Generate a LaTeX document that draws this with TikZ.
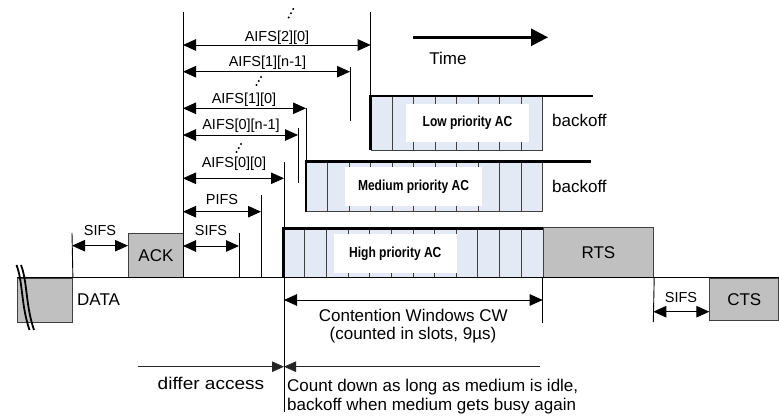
\documentclass[tikz,border=0pt]{standalone}
\usepackage{fontspec}
\setmainfont{Liberation Sans}
\usetikzlibrary{arrows.meta}
\definecolor{boxgrey}{HTML}{C0C0C0}
\definecolor{slotblue}{HTML}{E3EAF5}
\definecolor{edgegrey}{HTML}{404040}
\begin{document}
\begin{tikzpicture}[x=1pt,y=-1pt,
  tickline/.style={line width=0.9pt, black},
  slotline/.style={line width=0.9pt, edgegrey},
  thickline/.style={line width=2.6pt, black},
  dimarrow/.style={{Triangle[length=13pt,width=11.5pt]}-{Triangle[length=13pt,width=11.5pt]}, line width=0.9pt},
  greybox/.style={draw=edgegrey, fill=boxgrey, line width=0.9pt, inner sep=0pt, font=\fontsize{17}{20}\selectfont},
  dimlbl/.style={inner sep=0pt, anchor=base, font=\fontsize{14.5}{17}\selectfont},
  txt/.style={inner sep=0pt, font=\fontsize{17}{20}\selectfont},
  aclbl/.style={inner sep=0pt, font=\fontsize{14.5}{17}\selectfont\bfseries},
  dotmark/.style={fill=black}
]
\useasboundingbox (0,0) rectangle (779,419);

% ---------- slot boxes ----------
% low priority
\fill[slotblue] (370.7,96) rectangle (542.7,150);
\foreach \i in {1,...,7} \draw[slotline] ({370.7+\i*21.5},96) -- ({370.7+\i*21.5},150);
\fill[white] (406,104) rectangle (529,142);
\draw[slotline] (370.7,150) -- (542.7,150) -- (542.7,96);
\draw[thickline] (370.7,150) -- (370.7,96) -- (592.7,96);
\node[aclbl] (low) at (467.5,123) {\scalebox{0.83}[1]{Low priority AC}};

% medium priority
\fill[slotblue] (306,161.7) rectangle (542.7,211.7);
\foreach \i in {1,...,10} \draw[slotline] ({306+\i*21.52},161.7) -- ({306+\i*21.52},211.7);
\fill[white] (345,167) rectangle (482,206);
\draw[slotline] (306,211.7) -- (542.7,211.7) -- (542.7,161.7);
\draw[thickline] (306,211.7) -- (306,161.7) -- (591,161.7);
\node[aclbl] (med) at (413.5,186.5) {\scalebox{0.83}[1]{Medium priority AC}};

% high priority
\fill[slotblue] (283.3,228.3) rectangle (542.7,278);
\foreach \i in {1,...,11} \draw[slotline] ({283.3+\i*21.62},228.3) -- ({283.3+\i*21.62},278);
\fill[white] (334,234) rectangle (456.7,272.7);
\draw[thickline] (283.3,278) -- (283.3,228.3) -- (542.7,228.3);
\node[aclbl] (high) at (395.3,253.3) {\scalebox{0.83}[1]{High priority AC}};

% ---------- grey frames ----------
\node[greybox, minimum width=55pt, minimum height=44pt, anchor=north west] (data) at (17,278) {};
\node[greybox, minimum width=55pt, minimum height=44.3pt, anchor=south west] (ack) at (128,278) {ACK};
\node[greybox, minimum width=110.6pt, minimum height=49.7pt, anchor=south west] (rts) at (542.7,278) {RTS};
\node[greybox, minimum width=69pt, minimum height=42pt, anchor=north west] (cts) at (709.3,278) {CTS};

% break marks on DATA
\draw[line width=1.8pt] (16.5,265) .. controls (23,282) and (21,305) .. (29.5,330);
\draw[line width=1.8pt] (21,265) .. controls (27.5,282) and (25.5,305) .. (34,330);

% ---------- tick lines ----------
\coordinate (tS1) at (72,233);
\coordinate (tT) at (183,12);   \coordinate (tTb) at (183,278);
\coordinate (tS2) at (239,233); \coordinate (tS2b) at (239,278);
\coordinate (tP) at (261,195);  \coordinate (tPb) at (261,278);
\coordinate (tA00) at (284,162); \coordinate (tA00b) at (284,412);
\coordinate (tA0n) at (298,128); \coordinate (tA0nb) at (298,183);
\coordinate (tA10) at (306,108); \coordinate (tA10b) at (306,162);
\coordinate (tA1n) at (350,67);  \coordinate (tA1nb) at (350,121);
\coordinate (tA20) at (370.7,12); \coordinate (tA20b) at (370.7,96);
\coordinate (tCW) at (542.7,323);
\coordinate (tR) at (653.3,322);
\draw[tickline] (data.north east) -- (tS1);
\draw[tickline] (tT) -- (tTb);
\draw[tickline] (tS2) -- (tS2b);
\draw[tickline] (tP) -- (tPb);
\draw[tickline] (tA00) -- (tA00b);
\draw[tickline] (tA0n) -- (tA0nb);
\draw[tickline] (tA10) -- (tA10b);
\draw[tickline] (tA1n) -- (tA1nb);
\draw[tickline] (tA20) -- (tA20b);
\draw[tickline] (rts.south west) -- (tCW);
\draw[tickline] (rts.south east) -- (tR);

% baseline
\coordinate (Lend) at (779,278);
\draw[line width=1pt] (data.north west) -- (Lend);

% ---------- dimension arrows ----------
\coordinate (s1a) at (72,245.7);  \coordinate (s1b) at (128,245.7);
\coordinate (s2a) at (183,246);   \coordinate (s2b) at (239,246);
\coordinate (pa) at (183,211.7);  \coordinate (pb) at (261,211.7);
\coordinate (a00a) at (183,178.3); \coordinate (a00b) at (284,178.3);
\coordinate (a0na) at (183,135);  \coordinate (a0nb) at (298,135);
\coordinate (a10a) at (183,108.3); \coordinate (a10b) at (306,108.3);
\coordinate (a1na) at (183,71.7); \coordinate (a1nb) at (350,71.7);
\coordinate (a20a) at (183,45);   \coordinate (a20b) at (370.7,45);
\coordinate (cwa) at (284,300);   \coordinate (cwb) at (542.7,300);
\coordinate (s3a) at (653.3,311.7); \coordinate (s3b) at (709.3,311.7);
\draw[dimarrow] (s1a) -- (s1b);
\draw[dimarrow] (s2a) -- (s2b);
\draw[dimarrow] (pa) -- (pb);
\draw[dimarrow] (a00a) -- (a00b);
\draw[dimarrow] (a0na) -- (a0nb);
\draw[dimarrow] (a10a) -- (a10b);
\draw[dimarrow] (a1na) -- (a1nb);
\draw[dimarrow] (a20a) -- (a20b);
\draw[dimarrow] (cwa) -- (cwb);
\draw[dimarrow] (s3a) -- (s3b);

\node[dimlbl] (ls1) at (100,236) {SIFS};
\node[dimlbl] (ls2) at (211,236) {SIFS};
\node[dimlbl] (lp) at (222,205) {PIFS};
\node[dimlbl] (la00) at (234,167.5) {AIFS[0][0]};
\node[dimlbl] (la0n) at (241,129.5) {AIFS[0][n-1]};
\node[dimlbl] (la10) at (244,103.5) {AIFS[1][0]};
\node[dimlbl] (la1n) at (267.5,67) {AIFS[1][n-1]};
\node[dimlbl] (la20) at (277,41.5) {AIFS[2][0]};
\node[dimlbl] (ls3) at (681,302.7) {SIFS};

% ellipsis dots
\foreach \p in {(288.8,17.5),(291,13.3),(293.3,9),(256.5,85),(258.8,81),(261,77),(236.5,152),(238.8,148),(241,144)}
  \fill[dotmark] \p circle (1.1);

% ---------- time arrow ----------
\coordinate (ta) at (413,37.3);
\coordinate (tb) at (548,37.3);
\draw[line width=2.6pt, -{Triangle[length=17pt,width=17pt]}] (ta) -- (tb);
\node[txt, anchor=base] (time) at (448,65) {Time};

% ---------- other labels ----------
\node[txt, anchor=base west] (datalbl) at (77,306) {DATA};
\node[txt, anchor=base west] (bo1) at (552,126.7) {backoff};
\node[txt, anchor=base west] (bo2) at (552,192.7) {backoff};
\node[txt, anchor=base] (cw1) at (413.3,321.7) {Contention Windows CW};
\node[txt, anchor=base] (cw2) at (413,340) {(counted in slots, 9µs)};

% ---------- bottom arrows ----------
\coordinate (da) at (138,366.7);
\coordinate (db) at (284,366.7);
\coordinate (dc) at (540,366.7);
\draw[line width=0.9pt, black!85, -{Triangle[length=12pt,width=10.5pt]}] (da) -- (db);
\draw[line width=0.9pt, black!85, {Triangle[length=12pt,width=10.5pt]}-] (db) -- (dc);
\node[txt, anchor=base] (differ) at (211,389.3) {\scalebox{1.12}[1]{differ access}};
\node[txt, anchor=base west] (cd1) at (287,391.7) {Count down as long as medium is idle,};
\node[txt, anchor=base west] (cd2) at (287,410.5) {backoff when medium gets busy again};
\end{tikzpicture}
\end{document}
